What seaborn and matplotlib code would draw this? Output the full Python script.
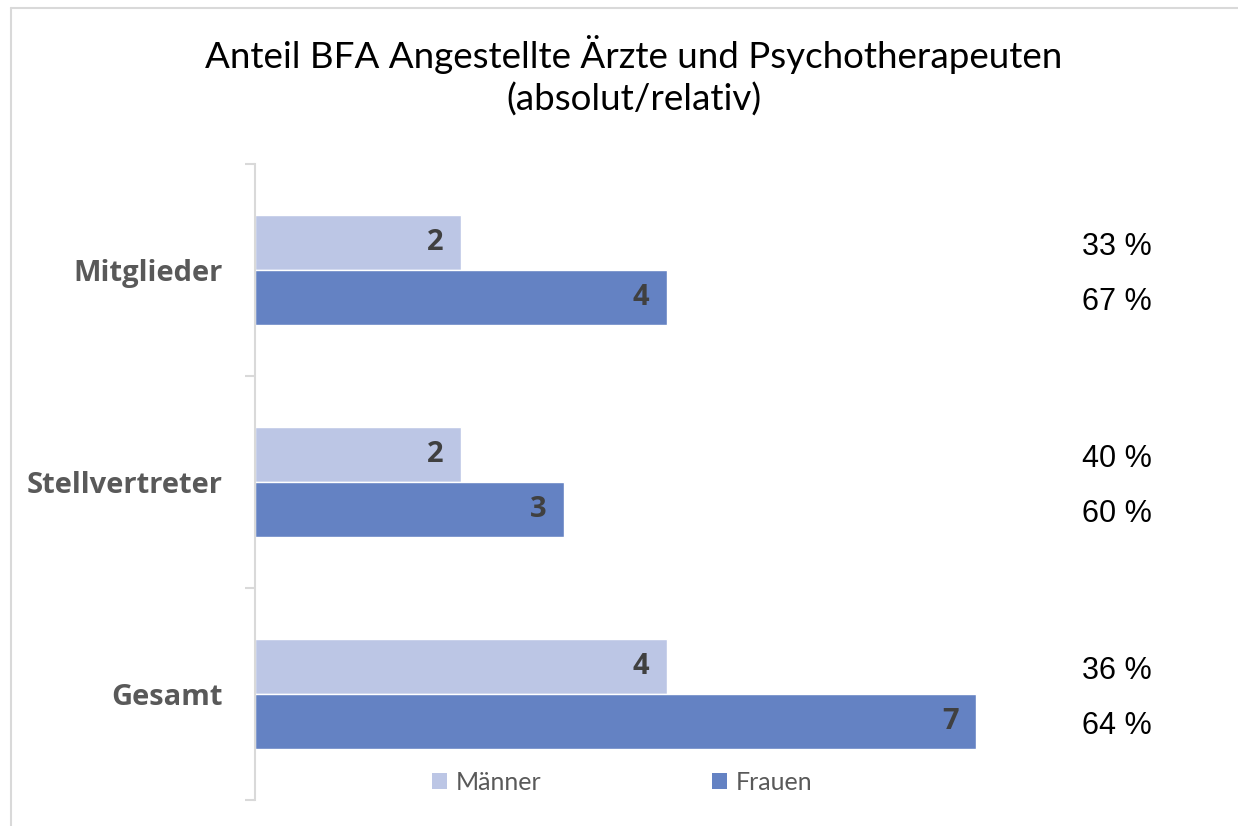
import matplotlib
matplotlib.use("Agg")
import matplotlib.pyplot as plt
from matplotlib.lines import Line2D
from matplotlib.patches import Patch
import pandas as pd
import seaborn as sns

# --- Daten ---
kategorien = ["Mitglieder", "Stellvertreter", "Gesamt"]
maenner = [2, 2, 4]
frauen = [4, 3, 7]
anteil_maenner = [33, 40, 36]
anteil_frauen = [67, 60, 64]
serien = ["Männer", "Frauen"]
farben = {"Männer": "#BCC6E5", "Frauen": "#6482C3"}

df = pd.DataFrame({
    "Kategorie": kategorien * 2,
    "Anzahl": maenner + frauen,
    "Gruppe": [serien[0]] * 3 + [serien[1]] * 3,
})

sns.set_theme(style="white")
plt.rcParams["font.family"] = ["Lato", "DejaVu Sans"]

fig = plt.figure(figsize=(12.38, 8.26), dpi=100)
ax = fig.add_axes([255 / 1238, 1 - 800 / 826, (1050 - 255) / 1238, 636 / 826])

sns.barplot(data=df, x="Anzahl", y="Kategorie", hue="Gruppe", order=kategorien,
            hue_order=serien, palette=farben, width=0.52, orient="h",
            saturation=1, legend=False, ax=ax)

ax.set_xlim(0, 795 / 103)
ax.set_ylim(2.5, -0.5)
ax.set_xlabel("")
ax.set_ylabel("")
ax.set_xticks([])
for s in ["top", "right", "bottom"]:
    ax.spines[s].set_visible(False)
ax.spines["left"].set_color("#D9D9D9")
ax.spines["left"].set_linewidth(1.5)
ax.tick_params(axis="y", which="major", left=False, length=0, pad=23)
ax.set_yticks([-0.5, 0.5, 1.5, 2.5], minor=True)
ax.tick_params(axis="y", which="minor", left=True, length=7, width=1.5,
               color="#D9D9D9")
for lbl in ax.get_yticklabels():
    lbl.set_fontsize(21)
    lbl.set_fontweight("bold")
    lbl.set_family("Open Sans")
    lbl.set_color("#595959")

# Werte in den Balken
for cont in ax.containers:
    for bar in cont:
        w = bar.get_width()
        yc = bar.get_y() + bar.get_height() / 2
        ax.text(w - 0.17, yc, f"{int(w)}", ha="right", va="center",
                fontsize=21, fontweight="bold", family="Open Sans",
                color="#404040")

# Prozentangaben rechts
for cont, werte in zip(ax.containers, [anteil_maenner, anteil_frauen]):
    for bar, p in zip(cont, werte):
        yc = bar.get_y() + bar.get_height() / 2
        ax.text(8.37, yc + 0.02, f"{p} %", ha="center", va="center",
                fontsize=22, family="Liberation Sans", color="#000000",
                clip_on=False)

fig.suptitle("Anteil BFA Angestellte Ärzte und Psychotherapeuten\n(absolut/relativ)",
             x=634 / 1238, y=1 - 35 / 826, va="top", fontsize=26.5,
             color="#000000", linespacing=1.3)

handles = [Patch(facecolor=farben[s], edgecolor="none", label=s) for s in serien]
fig.legend(handles=handles, loc="center", ncol=2, frameon=False,
           bbox_to_anchor=(622 / 1238, 1 - 782 / 826), fontsize=18,
           handlelength=0.6, handleheight=0.6, handletextpad=0.35,
           columnspacing=6.85, labelcolor="#595959")

# Rahmen
rc = "#D9D9D9"
fig.add_artist(Line2D([11 / 1238, 1], [1 - 8 / 826, 1 - 8 / 826], color=rc, lw=1.5))
fig.add_artist(Line2D([11 / 1238, 11 / 1238], [0, 1 - 8 / 826], color=rc, lw=1.5))

fig.savefig("out.png", dpi=100)
